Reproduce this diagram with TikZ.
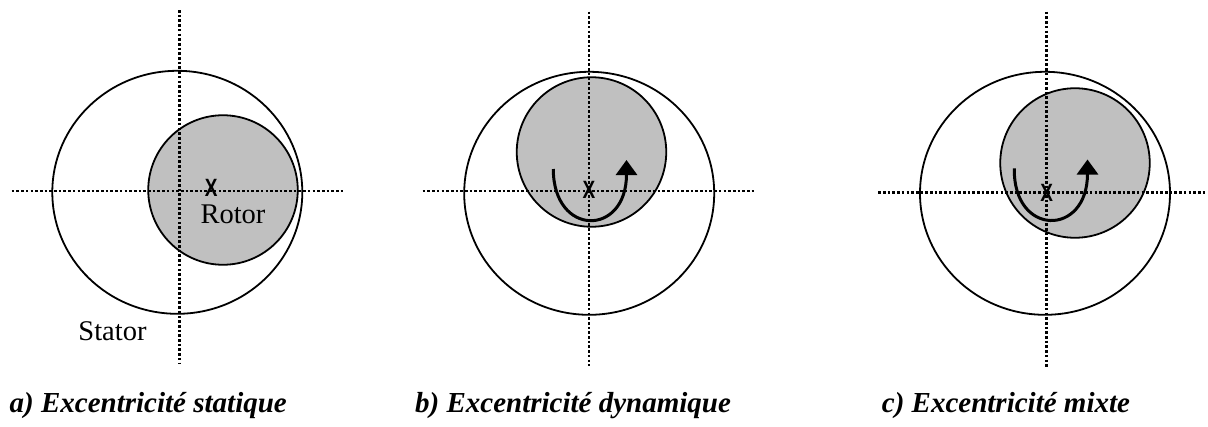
\documentclass[tikz,border=0pt]{standalone}
\usepackage{fontspec}
\setmainfont{Liberation Serif}
\newfontfamily\xmarkfont{Liberation Sans}
\usetikzlibrary{arrows.meta,shapes.geometric}
\definecolor{rotorgray}{RGB}{192,192,192}
\tikzset{
  statorshape/.style={ellipse, draw=black, line width=1.8pt, inner sep=0pt, outer sep=0pt, minimum width=250pt, minimum height=243pt},
  rotorshape/.style={ellipse, draw=black, fill=rotorgray, line width=1.8pt, inner sep=0pt, outer sep=0pt, minimum width=149.5pt, minimum height=149.5pt},
  axisline/.style={line width=2.6pt, dash pattern=on 2.6pt off 2.1pt},
  centermark/.style={inner sep=0pt, font=\xmarkfont\bfseries\fontsize{25}{25}\selectfont, xscale=0.76},
  rotarrow/.style={line width=3pt, -{Triangle[length=15pt,width=21pt]}},
  label/.style={inner sep=0pt, font=\fontsize{28.5}{30}\selectfont},
  caption/.style={inner sep=0pt, anchor=base west, font=\bfseries\itshape\fontsize{29}{31}\selectfont}
}
\begin{document}
\begin{tikzpicture}[x=1pt,y=-1pt]
\useasboundingbox (0,0) rectangle (1208,426);
% ---------- a) static ----------
\node[statorshape] (statA) at (177.3,192.3) {};
\node[rotorshape] (rotA) at (223,190) {};
\coordinate (aT) at (179.3,10);
\coordinate (aB) at (179.3,364);
\coordinate (aL) at (11.7,191);
\coordinate (aR) at (343.3,191);
\draw[axisline] (aT) -- (aB);
\draw[axisline] (aL) -- (aR);
\node[centermark] (xA) at (211.3,188) {X};
\node[label, anchor=base] (rotorlbl) at (233,223.5) {Rotor};
\node[label, anchor=base] (statorlbl) at (112.5,340) {Stator};
\node[caption] (capA) at (9.5,412) {a) Excentricité statique};
% ---------- b) dynamic ----------
\node[statorshape] (statB) at (589.2,193.3) {};
\node[rotorshape] (rotB) at (591.5,152) {};
\coordinate (bT) at (589,11.7);
\coordinate (bB) at (589,365.7);
\coordinate (bL) at (422.7,191);
\coordinate (bR) at (756,191);
\draw[axisline] (bT) -- (bB);
\draw[axisline] (bL) -- (bR);
\node[centermark] (xB) at (589,190) {X};
\coordinate (bS) at (553.3,169);
\coordinate (bE) at (626.5,160);
\draw[rotarrow] (bS) .. controls (553.3,237) and (626.5,237) .. (bE);
\node[caption] (capB) at (415,412) {b) Excentricité dynamique};
% ---------- c) mixed ----------
\node[statorshape] (statC) at (1045,193.3) {};
\node[rotorshape] (rotC) at (1075,163) {};
\coordinate (cT) at (1046.7,11.7);
\coordinate (cB) at (1046.7,366.7);
\coordinate (cL) at (878.3,192.3);
\coordinate (cR) at (1206.7,192.3);
\draw[axisline] (cT) -- (cB);
\draw[axisline] (cL) -- (cR);
\node[centermark] (xC) at (1046.7,193.3) {X};
\coordinate (cS) at (1014.3,168.3);
\coordinate (cE) at (1087.5,159.5);
\draw[rotarrow] (cS) .. controls (1013,237) and (1087.5,237) .. (cE);
\node[caption] (capC) at (881.7,412) {c) Excentricité mixte};
\end{tikzpicture}
\end{document}
